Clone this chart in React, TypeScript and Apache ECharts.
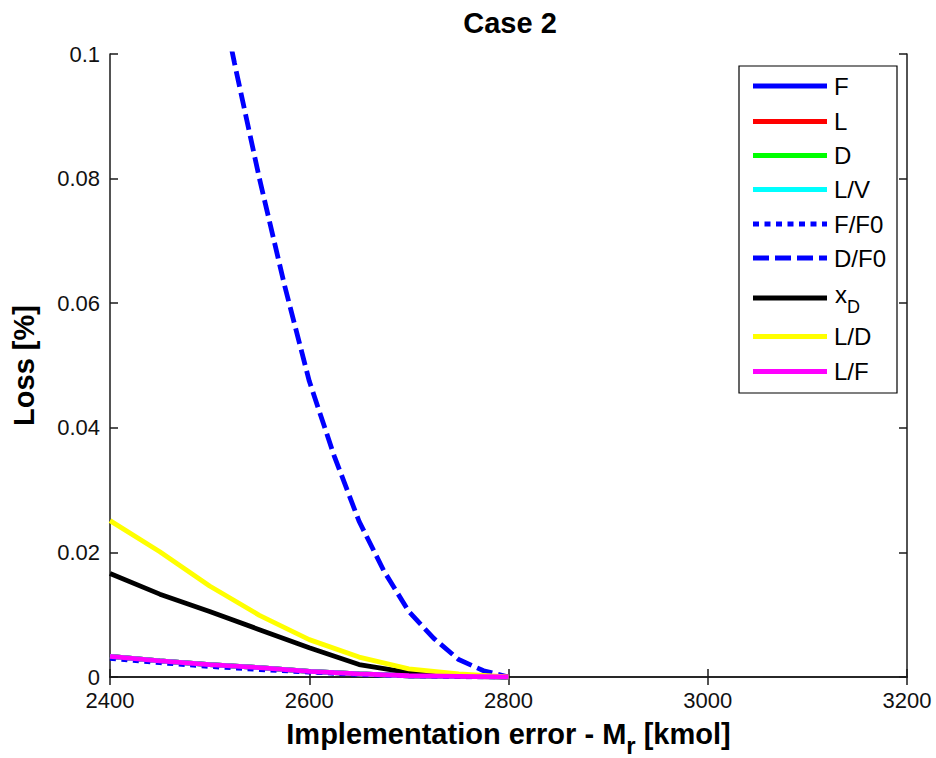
import React, { useEffect, useRef } from "react";
import * as echarts from "echarts";

// Implementation error M_r [kmol] grid for the loss curves
const mrCoarse = [2400, 2450, 2500, 2550, 2600, 2650, 2700, 2750, 2800];
const mrFine = [2500, 2525, 2550, 2575, 2600, 2625, 2650, 2675, 2700, 2725, 2750, 2775, 2800];

// Loss [%] per controlled variable
const lossF = [0.0033, 0.0026, 0.002, 0.0015, 0.0009, 0.0005, 0.0002, 0.0001, 0];
const lossL = [0.0033, 0.0026, 0.002, 0.0015, 0.0009, 0.0005, 0.0002, 0.0001, 0];
const lossD = [0.0033, 0.0026, 0.002, 0.0015, 0.0009, 0.0005, 0.0002, 0.0001, 0];
const lossLV = [0.0033, 0.0026, 0.002, 0.0015, 0.0009, 0.0005, 0.0002, 0.0001, 0];
const lossFF0 = [0.003, 0.0023, 0.0017, 0.0012, 0.0008, 0.0004, 0.0002, 0.00005, 0];
const lossDF0 = [0.118, 0.0985, 0.08, 0.063, 0.0475, 0.0355, 0.025, 0.017, 0.0105, 0.0062, 0.0028, 0.001, 0];
const lossXD = [0.0166, 0.0133, 0.0105, 0.0076, 0.0047, 0.002, 0.0007, 0.0002, 0];
const lossLD = [0.0251, 0.0201, 0.0146, 0.0099, 0.006, 0.0032, 0.0013, 0.0005, 0];
const lossLF = [0.0033, 0.0026, 0.002, 0.0015, 0.0009, 0.0005, 0.0002, 0.0001, 0];

const yTicks = [0, 0.02, 0.04, 0.06, 0.08, 0.1];

// Legend entries: label, colour
const legendNames = ["F", "L", "D", "L/V", "F/F0", "D/F0", "xD", "L/D", "L/F"];
const legendColors = ["#0000ff", "#ff0000", "#00ff00", "#00ffff", "#0000ff", "#0000ff", "#000000", "#ffff00", "#ff00ff"];

const FONT = "'Liberation Sans', Arial, Helvetica, sans-serif";
const LINE_W = 4.8;
const DOTTED = [6, 5.5];
const DASHED = [16, 6];

const pairs = (xs: number[], ys: number[]) => xs.map((x, i) => [x, ys[i]]);

export default function App() {
  const ref = useRef<HTMLDivElement>(null);

  useEffect(() => {
    if (!ref.current) return;
    document.body.style.margin = "0";
    const chart = echarts.init(ref.current, undefined, { renderer: "svg" });

    const dashOf = (name: string) =>
      name === "F/F0" ? DOTTED : name === "D/F0" ? DASHED : undefined;

    const line = (name: string, xs: number[], ys: number[]) => {
      const color = legendColors[legendNames.indexOf(name)];
      const dash = dashOf(name);
      return {
        name,
        type: "line",
        data: pairs(xs, ys),
        showSymbol: false,
        symbol: "none",
        clip: true,
        lineStyle: { color, width: LINE_W, type: dash ?? "solid", cap: "butt" },
        itemStyle: { color },
      };
    };

    const axisLine = { show: true, lineStyle: { color: "#1a1a1a", width: 1.5 } };
    const tick = { show: true, inside: true, length: 8, lineStyle: { color: "#1a1a1a", width: 1.5 } };

    // Legend box drawn as graphic elements
    const boxX = 739;
    const boxY = 66;
    const rowY = [86, 121.5, 155.5, 189.5, 224, 258, 298, 336.5, 371.5];
    const legendEls: any[] = [
      {
        type: "rect",
        shape: { x: boxX, y: boxY, width: 158, height: 327 },
        style: { fill: "#fff", stroke: "#000", lineWidth: 1.2 },
        z: 100,
      },
    ];
    legendNames.forEach((name, i) => {
      const y = rowY[i];
      const dash = dashOf(name);
      legendEls.push({
        type: "line",
        shape: { x1: 753, y1: y, x2: 827, y2: y },
        style: {
          stroke: legendColors[i],
          lineWidth: LINE_W,
          lineDash: dash,
          lineCap: "butt",
        },
        z: 101,
      });
      if (name === "xD") {
        legendEls.push(
          {
            type: "text",
            x: 835,
            y: 303 - 8.3,
            style: { text: "x", font: `24px ${FONT}`, fill: "#000", verticalAlign: "middle" },
            z: 101,
          },
          {
            type: "text",
            x: 847,
            y: 313 - 6.2,
            style: { text: "D", font: `18px ${FONT}`, fill: "#000", verticalAlign: "middle" },
            z: 101,
          }
        );
      } else {
        legendEls.push({
          type: "text",
          x: 834,
          y,
          style: { text: name, font: `24px ${FONT}`, fill: "#000", verticalAlign: "middle" },
          z: 101,
        });
      }
    });

    chart.setOption({
      animation: false,
      backgroundColor: "#ffffff",
      title: {
        text: "Case 2",
        left: 505,
        top: 3,
        textAlign: "center",
        textStyle: { fontFamily: FONT, fontSize: 29, fontWeight: "bold", color: "#000" },
      },
      grid: { left: 110, right: 29, top: 54, bottom: 81, outerBoundsMode: "none", containLabel: false },
      graphic: legendEls,
      xAxis: [
        {
          type: "value",
          min: 2400,
          max: 3200,
          interval: 200,
          name: "Implementation error - {m|M}{s|r} [kmol]",
          nameLocation: "middle",
          nameGap: 34,
          nameTextStyle: {
            fontFamily: FONT,
            fontSize: 29,
            fontWeight: "bold",
            color: "#000",
            rich: {
              m: { fontFamily: FONT, fontSize: 29, fontWeight: "bold", color: "#000" },
              s: { fontFamily: FONT, fontSize: 24, fontWeight: "bold", color: "#000", padding: [22, 0, 0, 0] },
            },
          },
          axisLine,
          axisTick: tick,
          splitLine: { show: false },
          axisLabel: {
            fontFamily: FONT,
            fontSize: 22,
            lineHeight: 16,
            color: "#111",
            margin: 15,
            formatter: (v: number) => String(v),
          },
        },
        {
          type: "value",
          position: "top",
          min: 2400,
          max: 3200,
          interval: 200,
          axisLine,
          axisTick: tick,
          axisLabel: { show: false },
          splitLine: { show: false },
        },
      ],
      yAxis: [
        {
          type: "value",
          min: 0,
          max: 0.1,
          interval: 0.02,
          name: "Loss [%]",
          nameLocation: "middle",
          nameGap: 72,
          nameTextStyle: { fontFamily: FONT, fontSize: 29, fontWeight: "bold", color: "#000" },
          axisLine,
          axisTick: tick,
          splitLine: { show: false },
          axisLabel: {
            fontFamily: FONT,
            fontSize: 22,
            lineHeight: 16,
            color: "#111",
            margin: 10,
            formatter: (v: number) => {
              const hit = yTicks.find((t) => Math.abs(t - v) < 1e-9);
              return hit === undefined ? "" : String(hit);
            },
          },
        },
        {
          type: "value",
          position: "right",
          min: 0,
          max: 0.1,
          interval: 0.02,
          axisLine,
          axisTick: tick,
          axisLabel: { show: false },
          splitLine: { show: false },
        },
      ],
      series: [
        line("F", mrCoarse, lossF),
        line("L", mrCoarse, lossL),
        line("D", mrCoarse, lossD),
        line("L/V", mrCoarse, lossLV),
        line("F/F0", mrCoarse, lossFF0),
        line("D/F0", mrFine, lossDF0),
        line("xD", mrCoarse, lossXD),
        line("L/D", mrCoarse, lossLD),
        line("L/F", mrCoarse, lossLF),
      ],
    });

    return () => chart.dispose();
  }, []);

  return <div ref={ref} style={{ width: 936, height: 758 }} />;
}
